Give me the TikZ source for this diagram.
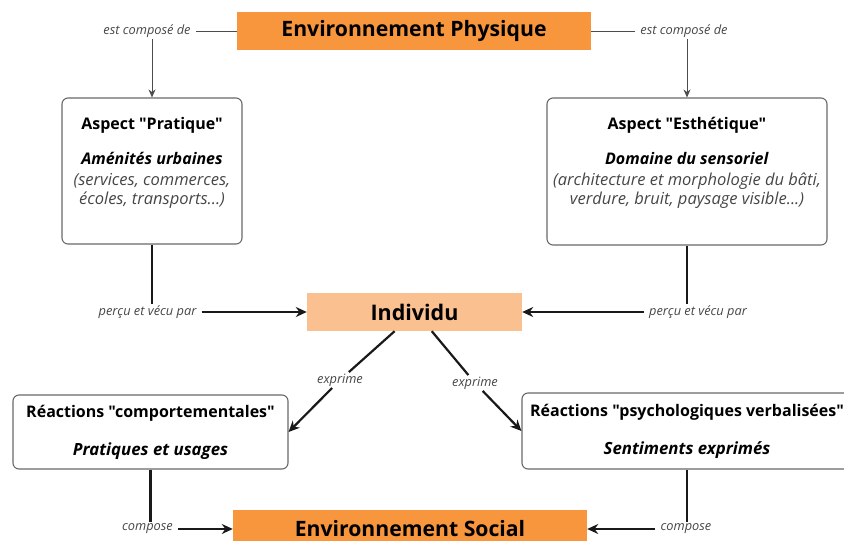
\documentclass[tikz,border=0pt]{standalone}
\usepackage{tikz}
\usetikzlibrary{positioning,arrows.meta}
\usepackage{fontspec}
\setmainfont{Open Sans}[Ligatures=TeXOff]
\definecolor{orangeenv}{RGB}{247,150,60}
\definecolor{orangeind}{RGB}{250,192,143}
\definecolor{bordgris}{RGB}{105,105,105}
\definecolor{textgris}{RGB}{70,70,70}
\newcommand{\detail}[1]{{\fontsize{16.5}{19}\selectfont\itshape\color{textgris}#1}}

\begin{document}
\begin{tikzpicture}[>={Stealth[length=11pt,width=10pt]}, x=1pt, y=-1pt,
	envbox/.style={fill=orangeenv, minimum width=354pt, minimum height=38pt,%
		font=\fontsize{21.2}{25}\selectfont\bfseries},
	indivbox/.style={fill=orangeind, minimum width=215pt, minimum height=38pt,%
		font=\fontsize{21.5}{25}\selectfont\bfseries},
	aspectbox/.style={draw=bordgris, line width=1.1pt, rounded corners=6pt,%
		align=center, inner sep=0pt, font=\fontsize{16}{19}\selectfont},
	lien/.style={font=\fontsize{12.8}{14}\selectfont\itshape, text=textgris,%
		inner xsep=5pt, inner ysep=1.5pt},
	fin/.style={draw=black!70, line width=0.9pt, >={Stealth[length=8pt,width=7pt]}},
	epais/.style={draw=black!90, line width=2.2pt}]
	\useasboundingbox (0,0) rectangle (844,541);
	% environnement physique et ses deux aspects
	\node[envbox] (phys) at (414,31) {Environnement Physique};
	\node[lien] (estL) at (147,31) {est composé de};
	\node[lien] (estR) at (684,31) {est composé de};
	\node[aspectbox, minimum width=180pt, minimum height=146pt] (prat) at (152,171)
		{\textbf{Aspect "Pratique"}\\[16pt]
		 \textbf{\textit{Aménités urbaines}}\\[2pt]
		 \detail{(services, commerces,}\\
		 \detail{écoles, transports...)}\\[2pt]\mbox{}};
	\node[aspectbox, minimum width=280pt, minimum height=147pt] (esth) at (687,171.5)
		{\textbf{Aspect "Esthétique"}\\[16pt]
		 \textbf{\textit{Domaine du sensoriel}}\\[2pt]
		 \detail{(architecture et morphologie du bâti,}\\
		 \detail{verdure, bruit, paysage visible...)}\\[2pt]\mbox{}};
	% individu
	\node[indivbox] (indiv) at (414.5,312) {Individu};
	\node[lien] (percuL) at (147.5,312) {perçu et vécu par};
	\node[lien] (percuR) at (698,312) {perçu et vécu par};
	\node[lien] (exprL) at (340,380) {exprime};
	\node[lien] (exprR) at (475,383) {exprime};
	% reactions
	\node[aspectbox, minimum width=275pt, minimum height=74pt] (comp) at (150.5,432)
		{\textbf{Réactions "comportementales"}\\[19pt]
		 \fontsize{16.8}{19}\selectfont\textbf{\textit{Pratiques et usages}}};
	\node[aspectbox, minimum width=330pt, minimum height=76pt] (psych) at (687,431)
		{\textbf{Réactions "psychologiques verbalisées"}\\[19pt]
		 \fontsize{16.8}{19}\selectfont\textbf{\textit{Sentiments exprimés}}};
	% environnement social
	\node[envbox] (social) at (410,529) {Environnement Social};
	\node[lien] (composeL) at (147.5,529) {compose};
	\node[lien] (composeR) at (686,529) {compose};

	\draw[fin] (phys.west) -- (estL.east);
	\draw[fin,->] (prat.north |- estL.south) -- (prat.north);
	\draw[fin] (phys.east) -- (estR.west);
	\draw[fin,->] (esth.north |- estR.south) -- (esth.north);

	\draw[epais] (prat.south) -- (prat.south |- percuL.north);
	\draw[epais,->] (percuL.east) -- (indiv.west);
	\draw[epais] (esth.south) -- (esth.south |- percuR.north);
	\draw[epais,->] (percuR.west) -- (indiv.east);

	\draw[epais,->] (indiv.224) -- (exprL) -- (comp.east);
	\draw[epais,->] (indiv.312) -- (exprR) -- (psych.west);

	\draw[epais] (comp.south) -- (comp.south |- composeL.north);
	\draw[epais,->] (composeL.east) -- (social.west);
	\draw[epais] (psych.south) -- (psych.south |- composeR.north);
	\draw[epais,->] (composeR.west) -- (social.east);
\end{tikzpicture}
\end{document}
